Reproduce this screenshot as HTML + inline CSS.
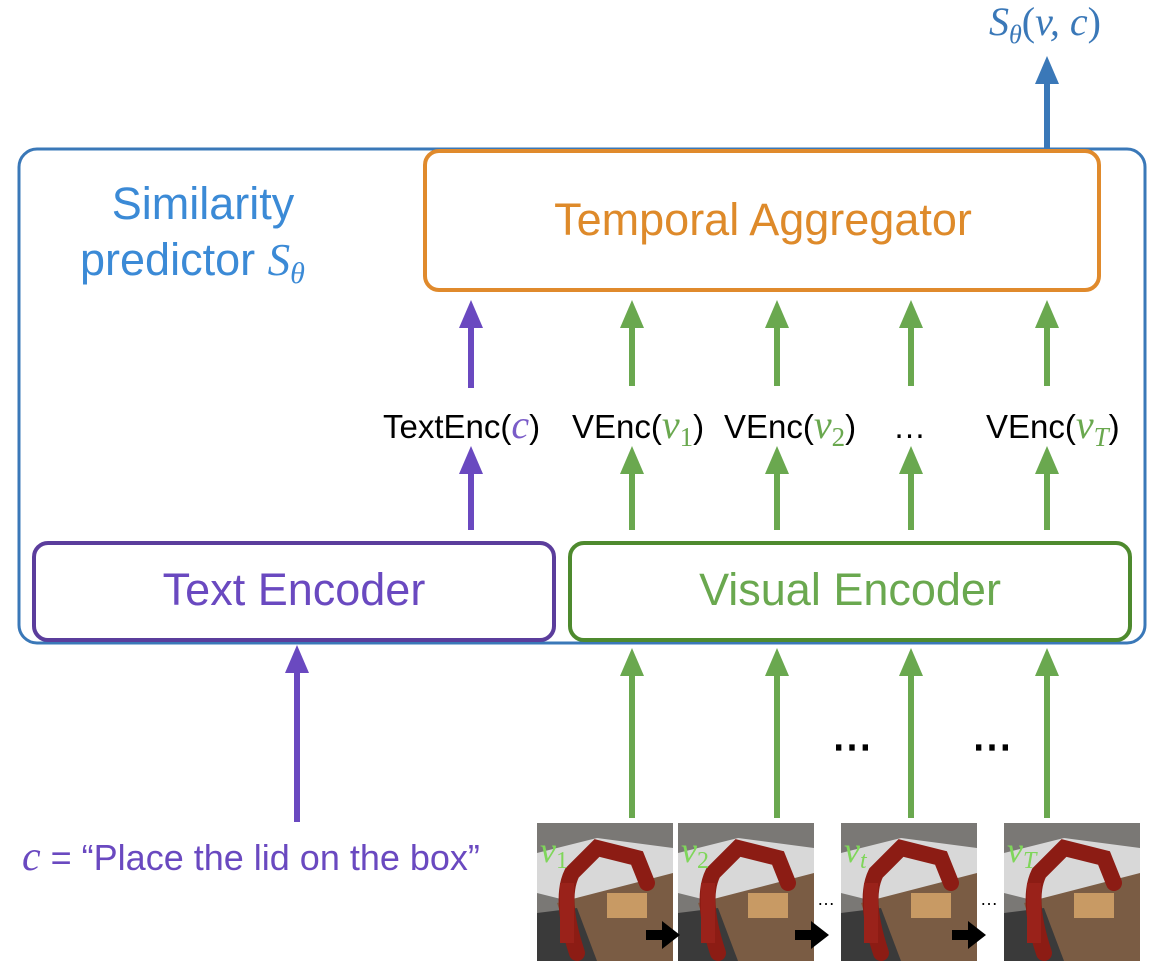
<!DOCTYPE html>
<html><head><meta charset="utf-8"><style>
html,body{margin:0;padding:0;background:#fff;width:1150px;height:980px;overflow:hidden}
text{font-family:"Liberation Sans",sans-serif}
.s{font-family:"Liberation Serif",serif;font-style:italic}
</style></head><body>
<svg width="1150" height="980" viewBox="0 0 1150 980" xmlns="http://www.w3.org/2000/svg">
<defs>
<g id="robot">
  <rect x="0" y="0" width="136" height="138" fill="#7a7875"/>
  <polygon points="0,30 60,15 136,25 136,60 40,80 0,70" fill="#d8d8d8"/>
  <polygon points="20,80 136,50 136,138 40,138" fill="#7a5c44"/>
  <polygon points="0,90 40,85 60,138 0,138" fill="#3a3a3a"/>
  <rect x="70" y="70" width="40" height="25" fill="#c89a64"/>
  <path d="M40,130 C30,100 25,70 35,50 L60,25 L100,35 L110,60" stroke="#8c1c14" stroke-width="16" fill="none" stroke-linecap="round"/>
  <path d="M30,60 L30,120" stroke="#9a221a" stroke-width="14" fill="none"/>
</g>
</defs>
<rect x="19" y="149" width="1126" height="494" rx="18" fill="none" stroke="#3a78b8" stroke-width="3"/>
<rect x="425" y="151" width="674" height="139" rx="14" fill="#fff" stroke="#e08a2c" stroke-width="4"/>
<text x="763" y="235" text-anchor="middle" font-size="45" fill="#de8a2a">Temporal Aggregator</text>
<text x="203" y="219" text-anchor="middle" font-size="45" fill="#3b8ad6">Similarity</text>
<text x="80" y="275" font-size="45" fill="#3b8ad6">predictor <tspan class="s">S</tspan><tspan class="s" font-size="30" dy="8">θ</tspan></text>
<rect x="34" y="543" width="520" height="97" rx="14" fill="#fff" stroke="#5b3d9c" stroke-width="4"/>
<text x="294" y="605" text-anchor="middle" font-size="45" fill="#6a49c0">Text Encoder</text>
<rect x="570" y="543" width="560" height="97" rx="14" fill="#fff" stroke="#4e8a2e" stroke-width="4"/>
<text x="850" y="605" text-anchor="middle" font-size="45" fill="#6aa84f">Visual Encoder</text>
<g fill="#6a49c0" stroke="#6a49c0">
<line x1="471" y1="388" x2="471" y2="320" stroke-width="6"/><polygon points="471,300 459,328 483,328" stroke="none"/>
<line x1="471" y1="530" x2="471" y2="466" stroke-width="6"/><polygon points="471,446 459,474 483,474" stroke="none"/>
<line x1="297" y1="822" x2="297" y2="665" stroke-width="6"/><polygon points="297,645 285,673 309,673" stroke="none"/>
</g>
<g fill="#6aa84f" stroke="#6aa84f">
<line x1="632" y1="386" x2="632" y2="320" stroke-width="6"/><polygon points="632,300 620,328 644,328" stroke="none"/>
<line x1="777" y1="386" x2="777" y2="320" stroke-width="6"/><polygon points="777,300 765,328 789,328" stroke="none"/>
<line x1="911" y1="386" x2="911" y2="320" stroke-width="6"/><polygon points="911,300 899,328 923,328" stroke="none"/>
<line x1="1047" y1="386" x2="1047" y2="320" stroke-width="6"/><polygon points="1047,300 1035,328 1059,328" stroke="none"/>
<line x1="632" y1="530" x2="632" y2="466" stroke-width="6"/><polygon points="632,446 620,474 644,474" stroke="none"/>
<line x1="777" y1="530" x2="777" y2="466" stroke-width="6"/><polygon points="777,446 765,474 789,474" stroke="none"/>
<line x1="911" y1="530" x2="911" y2="466" stroke-width="6"/><polygon points="911,446 899,474 923,474" stroke="none"/>
<line x1="1047" y1="530" x2="1047" y2="466" stroke-width="6"/><polygon points="1047,446 1035,474 1059,474" stroke="none"/>
<line x1="632" y1="818" x2="632" y2="668" stroke-width="6"/><polygon points="632,648 620,676 644,676" stroke="none"/>
<line x1="777" y1="818" x2="777" y2="668" stroke-width="6"/><polygon points="777,648 765,676 789,676" stroke="none"/>
<line x1="911" y1="818" x2="911" y2="668" stroke-width="6"/><polygon points="911,648 899,676 923,676" stroke="none"/>
<line x1="1047" y1="818" x2="1047" y2="668" stroke-width="6"/><polygon points="1047,648 1035,676 1059,676" stroke="none"/>
</g>
<g fill="#3a78b8" stroke="#3a78b8">
<line x1="1047" y1="148" x2="1047" y2="78" stroke-width="6"/><polygon points="1047,56 1035,84 1059,84" stroke="none"/>
</g>
<text x="1045" y="35" text-anchor="middle" font-size="40" fill="#3a78b8" class="s">S<tspan font-size="26" dy="8">θ</tspan><tspan dy="-8" font-style="normal">(</tspan>v, c<tspan font-style="normal">)</tspan></text>
<g font-size="33" fill="#000">
<text x="383" y="438">TextEnc(<tspan class="s" fill="#7a5cc8" font-size="40">c</tspan>)</text>
<text x="572" y="438">VEnc(<tspan class="s" fill="#6aa84f" font-size="40">v</tspan><tspan font-family="Liberation Serif" fill="#6aa84f" font-size="27" dy="8">1</tspan><tspan dy="-8">)</tspan></text>
<text x="724" y="438">VEnc(<tspan class="s" fill="#6aa84f" font-size="40">v</tspan><tspan font-family="Liberation Serif" fill="#6aa84f" font-size="27" dy="8">2</tspan><tspan dy="-8">)</tspan></text>
<text x="893" y="438">…</text>
<text x="986" y="438">VEnc(<tspan class="s" fill="#6aa84f" font-size="40">v</tspan><tspan class="s" fill="#6aa84f" font-size="27" dy="8">T</tspan><tspan dy="-8">)</tspan></text>
</g>
<text x="832" y="760" font-size="40" font-weight="bold" fill="#000">⋯</text>
<text x="972" y="760" font-size="40" font-weight="bold" fill="#000">⋯</text>
<text x="22" y="870" font-size="36" fill="#6a49c0"><tspan class="s" font-size="42">c</tspan> =  “Place the lid on the box”</text>
<use href="#robot" x="537" y="823"/>
<use href="#robot" x="678" y="823"/>
<use href="#robot" x="841" y="823"/>
<use href="#robot" x="1004" y="823"/>
<g font-size="36" fill="#7fd65a" class="s">
<text x="540" y="862" class="s">v<tspan font-size="24" dy="6" font-style="normal">1</tspan></text>
<text x="681" y="862" class="s">v<tspan font-size="24" dy="6" font-style="normal">2</tspan></text>
<text x="844" y="862" class="s">v<tspan font-size="24" dy="6">t</tspan></text>
<text x="1007" y="862" class="s">v<tspan font-size="24" dy="6">T</tspan></text>
</g>
<text x="817" y="905" font-size="18">…</text>
<text x="980" y="905" font-size="18">…</text>
<g fill="#000">
<rect x="646" y="930" width="20" height="10"/><polygon points="662,921 662,949 680,935"/>
<rect x="795" y="930" width="20" height="10"/><polygon points="811,921 811,949 829,935"/>
<rect x="952" y="930" width="20" height="10"/><polygon points="968,921 968,949 986,935"/>
</g>
</svg>
</body></html>
